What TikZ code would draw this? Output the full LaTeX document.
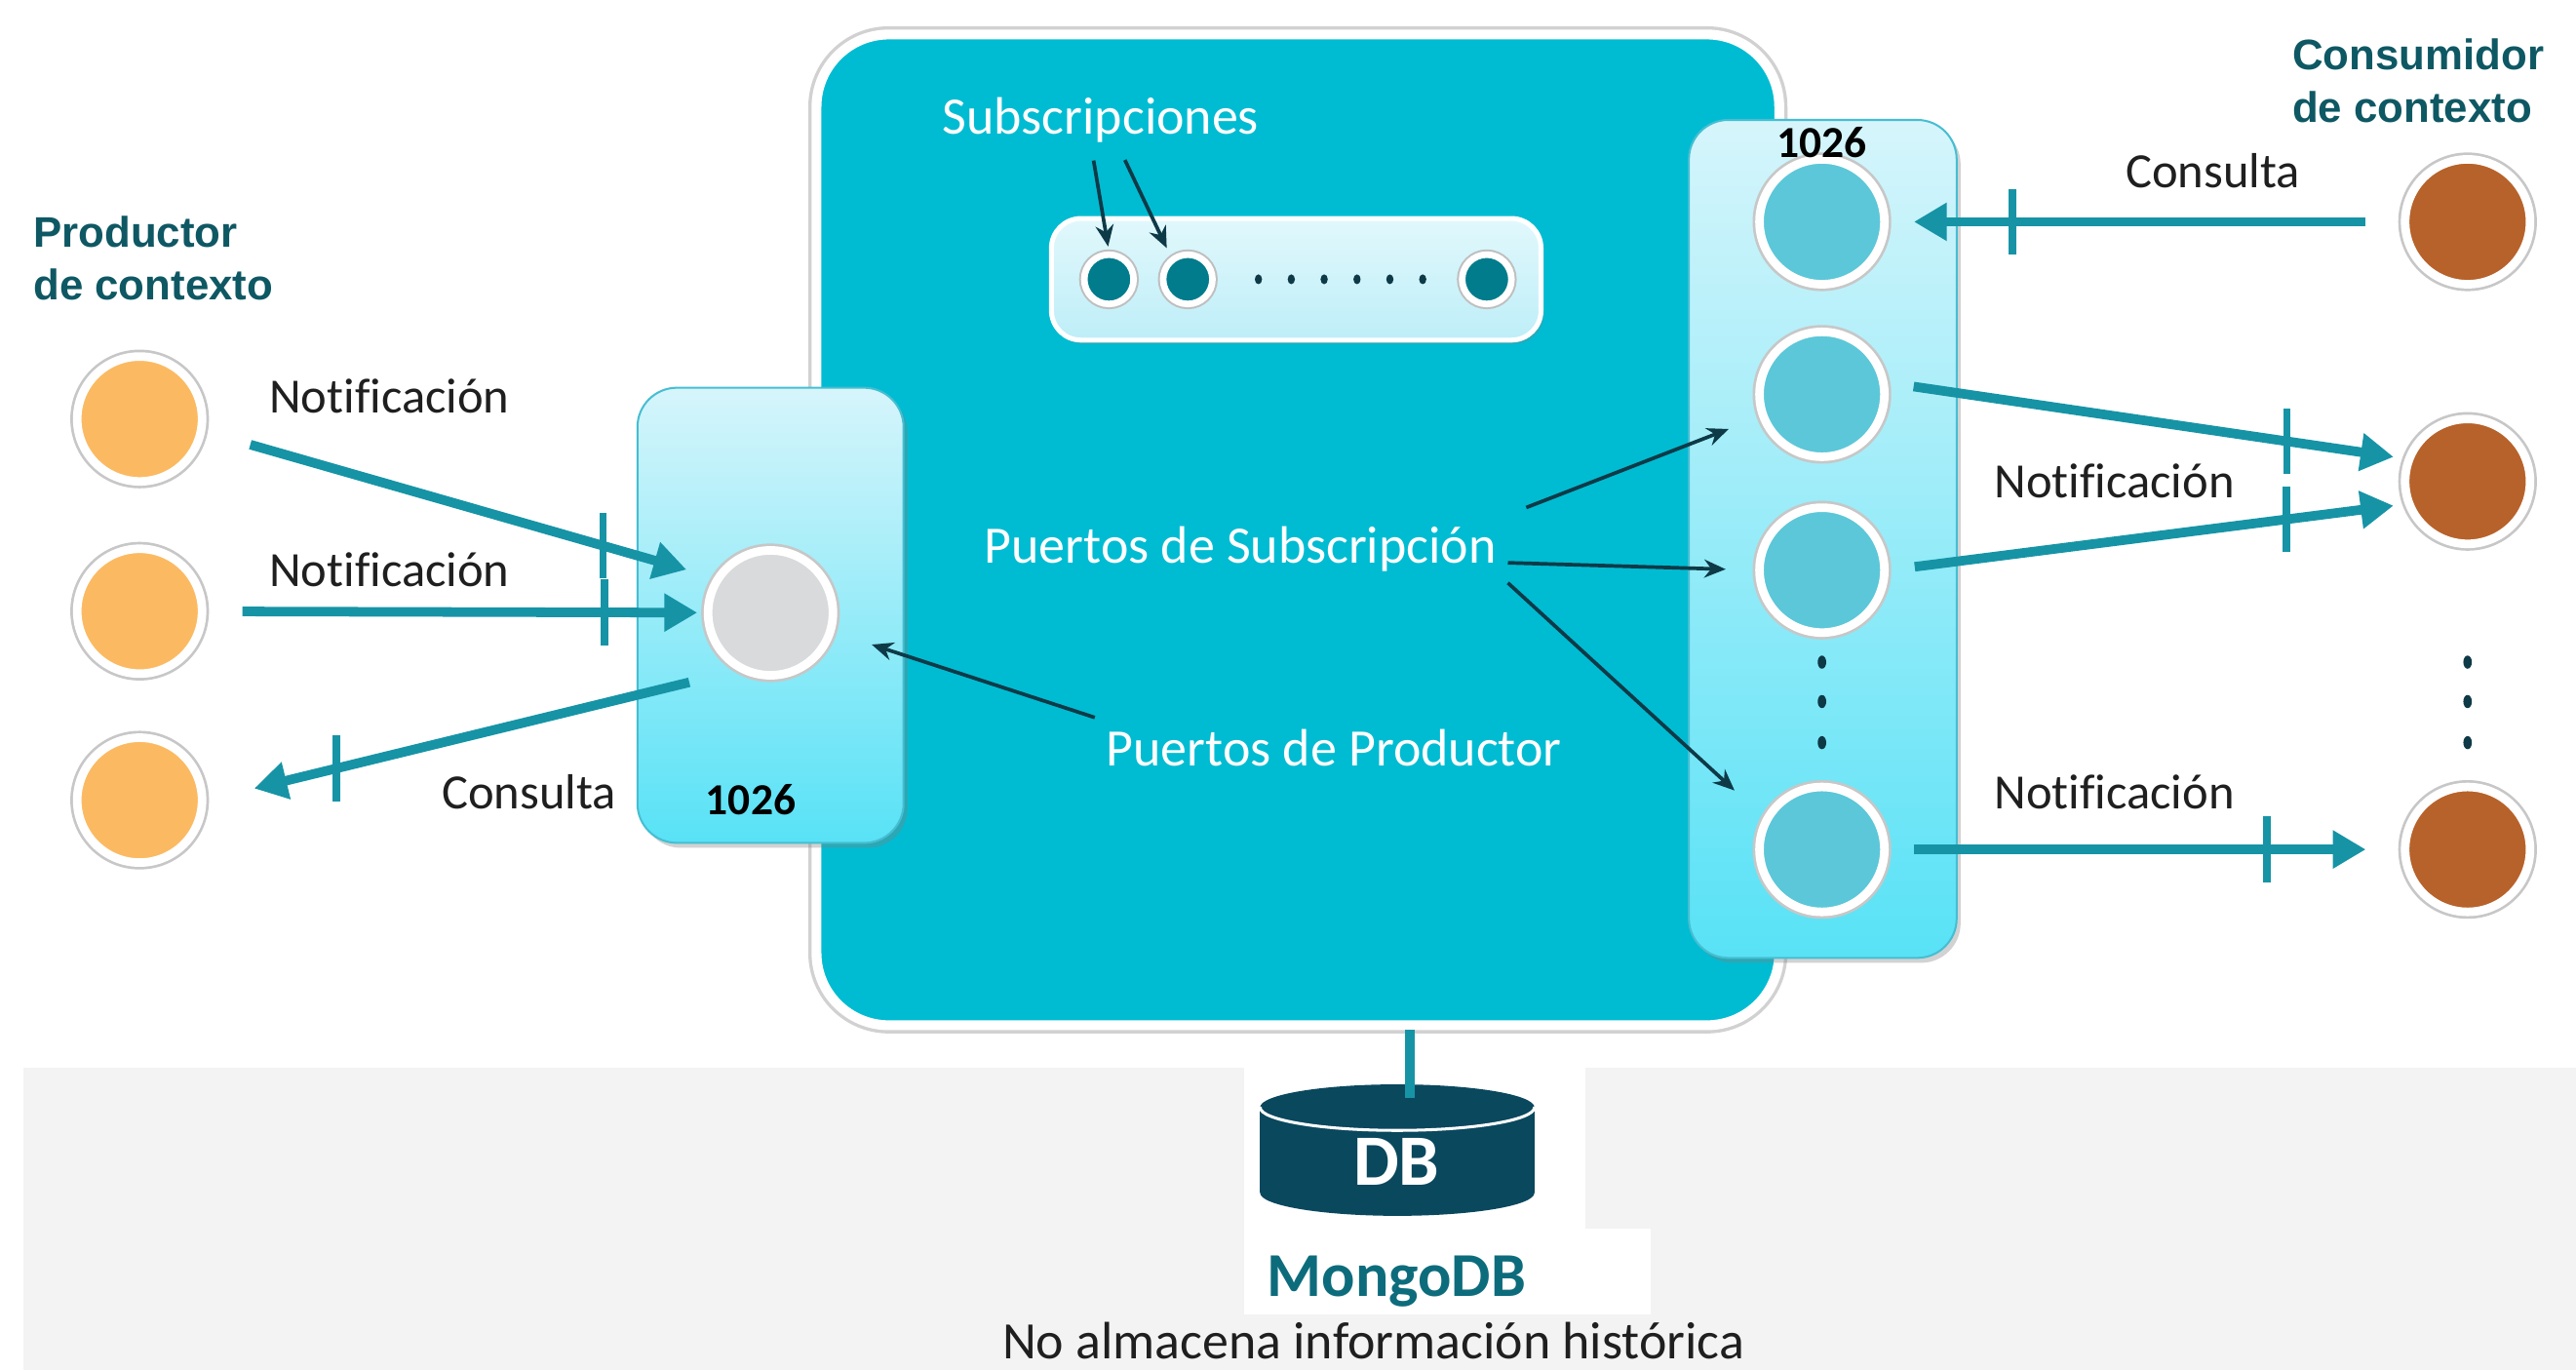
\documentclass[tikz,border=0pt]{standalone}
\usepackage{fontspec}
\setmainfont{Carlito}[Ligatures=NoCommon]
\newfontfamily\headfont{Liberation Sans}
\usetikzlibrary{arrows.meta,shadows,decorations.markings}

\definecolor{coreteal}{RGB}{0,188,210}
\definecolor{flowteal}{RGB}{22,148,166}
\definecolor{darkarrow}{RGB}{14,58,72}
\definecolor{orangec}{RGB}{251,186,98}
\definecolor{brownc}{RGB}{183,98,42}
\definecolor{portc}{RGB}{92,199,216}
\definecolor{grayc}{RGB}{217,218,220}
\definecolor{subc}{RGB}{0,124,140}
\definecolor{dbcol}{RGB}{10,72,94}
\definecolor{headteal}{RGB}{14,88,100}
\definecolor{mongoteal}{RGB}{13,108,124}
\definecolor{bandgray}{RGB}{243,243,243}
\definecolor{boxtop}{RGB}{214,245,251}
\definecolor{boxbot}{RGB}{88,226,246}
\definecolor{boxedge}{RGB}{70,190,210}
\definecolor{subtop}{RGB}{225,248,252}
\definecolor{subbot}{RGB}{190,238,248}

\begin{document}
\begin{tikzpicture}[x=0.5pt,y=-0.5pt,
  ring/.style={circle,minimum size=38pt,inner sep=0pt,draw=white,line width=2.6pt,
    preaction={draw=black!22,line width=4.2pt}},
  subring/.style={circle,minimum size=15pt,inner sep=0pt,fill=subc,draw=white,line width=2pt,
    preaction={draw=black!25,line width=3.2pt}},
  portbox/.style={rounded corners=12pt,top color=boxtop,bottom color=boxbot,draw=boxedge,
    line width=0.6pt,inner sep=0pt,
    drop shadow={opacity=0.35,shadow xshift=1.2pt,shadow yshift=-1.5pt}},
  thickflow/.style={draw=flowteal,line width=2.9pt,-{Triangle[length=10pt,width=11pt]},
    postaction={decorate},
    decoration={markings,mark=at position #1 with {\pgftransformresetnontranslations
      \draw[flowteal,line width=2.3pt,-,shorten <=0pt,shorten >=0pt] (0pt,-10pt) -- (0pt,10pt);}}},
  ptr/.style={draw=darkarrow,line width=1.1pt,-{Stealth[length=6.5pt,width=5.5pt]}},
  lbl/.style={text=black!88,font=\fontsize{15}{18}\selectfont,inner sep=0pt},
  wlbl/.style={text=white,font=\fontsize{16}{19}\selectfont},
  num/.style={font=\bfseries\fontsize{13.5}{16}\selectfont,inner sep=0pt},
  head/.style={text=headteal,font=\headfont\bfseries\fontsize{13}{16}\selectfont,align=left,anchor=west,inner sep=0pt},
]
\useasboundingbox (0,0) rectangle (1568,834);
\fill[white] (0,0) rectangle (1568,834);

% bottom band
\fill[bandgray] (14,650) rectangle (1568,834);
\fill[white] (757,650) rectangle (965,748);
\fill[white] (757,748) rectangle (1005,800);

% main box
\node[draw=white,line width=3pt,fill=coreteal,rounded corners=22pt,minimum width=293pt,
  minimum height=301.5pt,inner sep=0pt,preaction={draw=black!18,line width=5pt}] (core) at (790,322.5) {};

% subscription bar
\node[rounded corners=9pt,top color=subtop,bottom color=subbot,draw=white,line width=1.5pt,
  minimum width=149pt,minimum height=37pt,inner sep=0pt,
  drop shadow={opacity=0.3,shadow xshift=0.8pt,shadow yshift=-1.2pt}] (sbar) at (789,170) {};
\node[subring] (s1) at (675,170) {};
\node[subring] (s2) at (723,170) {};
\node[subring] (s3) at (905,170) {};
\foreach \dx in {766,786,806,826,846,866}
  \fill[darkarrow] (\dx,170) ellipse [x radius=2.2, y radius=3];

% port boxes
\node[portbox,minimum width=81pt,minimum height=138.5pt] (lp) at (469,374.5) {};
\node[portbox,minimum width=81.5pt,minimum height=255pt] (rp) at (1109.5,328) {};

% circles
\node[ring,fill=orangec] (o1) at (85,255) {};
\node[ring,fill=orangec] (o2) at (85,372) {};
\node[ring,fill=orangec] (o3) at (85,487) {};
\node[ring,fill=grayc] (p) at (469,373) {};
\node[ring,fill=portc] (r1) at (1109,135) {};
\node[ring,fill=portc] (r2) at (1109,240) {};
\node[ring,fill=portc] (r3) at (1109,347) {};
\node[ring,fill=portc] (r4) at (1109,517) {};
\node[ring,fill=brownc] (b1) at (1502,135) {};
\node[ring,fill=brownc] (b2) at (1502,293) {};
\node[ring,fill=brownc] (b3) at (1502,517) {};
\foreach \yy in {403,427,452} {
  \fill[darkarrow] (1109,\yy) ellipse [x radius=2.6, y radius=4];
  \fill[darkarrow] (1502,\yy) ellipse [x radius=2.6, y radius=4];
}

% numbers
\node[num] (n1) at (457,487) {1026};
\node[num] (n2) at (1109,87) {1026};

% headings
\node[head] (hp) at (20,157) {Productor\\de contexto};
\node[head] (hc) at (1395,49) {Consumidor\\de contexto};

% labels
\node[lbl] (l1) at (237,241) {Notificación};
\node[lbl] (l2) at (237,347) {Notificación};
\node[lbl] (l3) at (322,482) {Consulta};
\node[lbl] (l4) at (1347,104) {Consulta};
\node[lbl] (l5) at (1287,293) {Notificación};
\node[lbl] (l6) at (1287,482) {Notificación};

\node[wlbl] (sb) at (670,73) {Subscripciones};
\node[wlbl] (ps) at (755,334) {Puertos de Subscripción};
\node[wlbl] (pp) at (812,455) {Puertos de Productor};

% thick flows left
\draw[thickflow=0.782,shorten <=14.3pt,shorten >=8.7pt] (o1.-11) -- (p.148);
\draw[thickflow=0.8,shorten <=11pt,shorten >=2pt] (o2) -- (p);
\draw[thickflow=0.755,shorten <=15pt,shorten >=15pt] (p.-120) -- (o3.east);

% thick flows right
\draw[thickflow=0.758,shorten <=10.7pt,shorten >=7.7pt] (b1) -- (r1);
\draw[thickflow=0.772,shorten <=8pt,shorten >=3.5pt] (r2.10) -- (b2.160);
\draw[thickflow=0.771,shorten <=8pt,shorten >=3.5pt] (r3.east) -- (b2.-160);
\draw[thickflow=0.739,shorten <=7.7pt,shorten >=10.7pt] (r4) -- (b3);

% thin pointers
\draw[ptr,shorten <=2pt,shorten >=1.5pt] ([xshift=-2.5pt]sb.south) -- (s1.north);
\draw[ptr,shorten <=2pt,shorten >=3pt] ([xshift=6.5pt]sb.south) -- (s2.127);
\draw[ptr,shorten <=6pt,shorten >=10pt] (ps.north east) -- (r2.-160);
\draw[ptr,shorten >=9pt] (ps.base east) -- (r3.west);
\draw[ptr,shorten >=12pt] (ps.south east) -- (r4.151);
\draw[ptr,shorten >=12pt] (pp.north west) -- (p.-17);

% database
\fill[dbcol] (767,674) rectangle (934,726);
\fill[dbcol] (850.5,726) ellipse [x radius=83.5, y radius=14];
\fill[dbcol] (850.5,674) ellipse [x radius=83.5, y radius=14];
\begin{scope}
  \clip (760,674) rectangle (940,700);
  \draw[white,line width=0.9pt] (850.5,674) ellipse [x radius=83.5, y radius=14];
\end{scope}
\coordinate (dbtop) at (858,668);
\draw[flowteal,line width=2.9pt] (core.south -| dbtop) -- (dbtop);
\node[text=white,font=\bfseries\fontsize{22}{24}\selectfont] (db) at (850,707) {DB};
\node[text=mongoteal,font=\bfseries\fontsize{19}{22}\selectfont] (mongo) at (850,780) {MongoDB};
\node[text=black!88,font=\fontsize{16}{19}\selectfont] (hist) at (836,816) {No almacena información histórica};
\end{tikzpicture}
\end{document}
